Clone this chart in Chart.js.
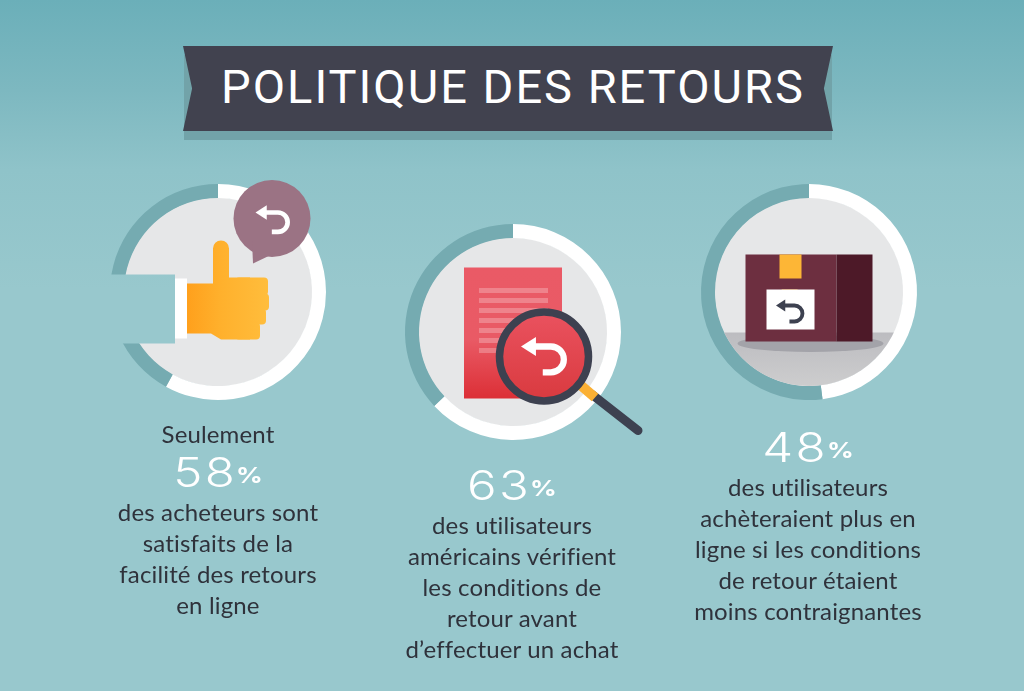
<!DOCTYPE html>
<html lang="fr"><head><meta charset="utf-8">
<script src="https://cdn.jsdelivr.net/npm/chart.js@4"></script>
<style>
html,body{margin:0;padding:0;width:1024px;height:691px;overflow:hidden}
body{position:relative;background:linear-gradient(to bottom,#6bafb9 0,#7db8c0 90px,#8fc3c9 170px,#98c8cd 290px,#98c8cd 691px)}
canvas{position:absolute}
.shadow,.ribbon{position:absolute;left:183px;width:650px;height:85px;clip-path:polygon(0 0,100% 0,98.6% 50%,100% 100%,0 100%,1.4% 50%)}
.ribbon{top:46px;background:#41424f}
.shadow{top:55px;background:#72a3a9;clip-path:none;left:184px;width:648px}
.title{position:absolute;left:5px;width:650px;top:11px;text-align:center;color:#fff;font:400 47px/60px Roboto,sans-serif;letter-spacing:2px;white-space:nowrap}
.block{position:absolute;width:300px;text-align:center;color:#2f323b;font:400 24px/31px Lato,sans-serif;letter-spacing:.15px}
.pct{color:#fff;font:300 41px/40px Inter,sans-serif;letter-spacing:2px;transform:scaleX(1.2)}
.pct span{font-size:22px;font-weight:700;letter-spacing:0;position:relative;top:-4px;margin-left:-1px}
</style></head><body>
<div class="shadow"></div>
<div class="ribbon"><div class="title">POLITIQUE DES RETOURS</div></div>
<canvas id="c0" width="300" height="300" style="left:68px;top:141.5px"></canvas>
<canvas id="c1" width="300" height="300" style="left:363px;top:181.5px"></canvas>
<canvas id="c2" width="300" height="300" style="left:658.5px;top:141.5px"></canvas>
<div class="block" style="left:68px;top:418px">Seulement<div class="pct" style="margin-top:3px;margin-bottom:-3px">58<span>%</span></div>des acheteurs sont<br>satisfaits de la<br>facilité des retours<br>en ligne</div>
<div class="block" style="left:362px;top:465px"><div class="pct" style="margin-bottom:-3px">63<span>%</span></div>des utilisateurs<br>américains vérifient<br>les conditions de<br>retour avant<br>d’effectuer un achat</div>
<div class="block" style="left:658px;top:427px"><div class="pct" style="margin-bottom:-3px">48<span>%</span></div>des utilisateurs<br>achèteraient plus en<br>ligne si les conditions<br>de retour étaient<br>moins contraignantes</div>
<script>
const categories = ["Oui", "Autres"];
const shares = [58, 63, 48];
const remainders = [42, 37, 52];
const sliceColors = ["#ffffff", "#75abb1"];

function retArrow(ctx, x, y, s, color) {
  ctx.save(); ctx.translate(x, y); ctx.scale(s, s);
  ctx.fillStyle = color; ctx.strokeStyle = color; ctx.lineWidth = 4.6;
  ctx.beginPath(); ctx.moveTo(0, 0); ctx.lineTo(11, -7); ctx.lineTo(11, 7); ctx.closePath(); ctx.fill();
  ctx.beginPath(); ctx.moveTo(9, 0); ctx.lineTo(22, 0); ctx.arc(22, 9.5, 9.5, -Math.PI/2, Math.PI/2); ctx.lineTo(16, 19); ctx.stroke();
  ctx.restore();
}
function grad(ctx, x0, y0, x1, y1, stops) {
  const g = ctx.createLinearGradient(x0, y0, x1, y1);
  stops.forEach(([o, c]) => g.addColorStop(o, c)); return g;
}
function rect(ctx, x, y, w, h, fill) { ctx.fillStyle = fill; ctx.fillRect(x, y, w, h); }

const icons = [
  function (ctx, ox, oy) { // thumb
    ctx.save(); ctx.translate(ox, oy);
    ctx.save(); ctx.globalCompositeOperation = "destination-out";
    ctx.fillRect(100, 274, 75, 69); ctx.restore();
    rect(ctx, 175, 278, 12, 60, "#fff");
    const g = grad(ctx, 187, 0, 268, 0, [[0, "#ffa01c"], [.4, "#ffb02c"], [1, "#ffbd3c"]]);
    ctx.fillStyle = g;
    ctx.beginPath();
    ctx.moveTo(187, 283); ctx.lineTo(213, 283); ctx.lineTo(213, 248);
    ctx.arc(221, 248, 8, Math.PI, 0); ctx.lineTo(229, 277); ctx.lineTo(250, 277);
    ctx.lineTo(250, 339); ctx.lineTo(221, 339); ctx.lineTo(211, 333); ctx.lineTo(187, 333); ctx.closePath(); ctx.fill();
    [[277, 18, 268], [293, 17, 269], [308, 16, 266], [322, 17, 260]].forEach(([y, h, r]) => {
      ctx.beginPath(); ctx.roundRect(235, y, r - 235, h, 4); ctx.fill();
    });
    ctx.fillStyle = "#9b7384";
    ctx.beginPath(); ctx.arc(272, 218, 38.5, 0, 7); ctx.fill();
    ctx.beginPath(); ctx.moveTo(252, 240); ctx.lineTo(253, 263); ctx.lineTo(276, 252); ctx.closePath(); ctx.fill();
    retArrow(ctx, 255.5, 212, 1.02, "#fff");
    ctx.restore();
  },
  function (ctx, ox, oy) { // document + lens
    ctx.save(); ctx.translate(ox, oy);
    rect(ctx, 464, 267, 98, 131, grad(ctx, 0, 267, 0, 398, [[0, "#ea5a66"], [.55, "#e95a65"], [1, "#dc2f36"]]));
    [290, 300, 310, 320, 330, 340, 350].forEach(y => rect(ctx, 479, y - 2.5, 69, 5, "rgba(255,255,255,.25)"));
    ctx.strokeStyle = "#3d4150"; ctx.lineWidth = 9; ctx.lineCap = "round";
    ctx.beginPath(); ctx.moveTo(592, 394); ctx.lineTo(638, 430); ctx.stroke();
    ctx.lineCap = "butt"; ctx.strokeStyle = "#fbb034"; ctx.lineWidth = 10;
    ctx.beginPath(); ctx.moveTo(581, 385); ctx.lineTo(595, 397); ctx.stroke();
    ctx.fillStyle = grad(ctx, 0, 312, 0, 400, [[0, "#ea525f"], [1, "#d93a3f"]]);
    ctx.beginPath(); ctx.arc(544, 356, 44.5, 0, 7); ctx.fill();
    ctx.strokeStyle = "#3d4150"; ctx.lineWidth = 7.5;
    ctx.beginPath(); ctx.arc(544, 356, 44.5, 0, 7); ctx.stroke();
    retArrow(ctx, 521, 346, 1.36, "#fff");
    ctx.restore();
  },
  function (ctx, ox, oy) { // box
    ctx.save(); ctx.translate(ox, oy);
    ctx.save(); ctx.beginPath(); ctx.arc(808.5, 291.5, 94, 0, 7); ctx.clip();
    rect(ctx, 700, 332, 220, 70, grad(ctx, 0, 332, 0, 386, [[0, "#bcbcc0"], [1, "#cdcdce"]]));
    ctx.restore();
    ctx.fillStyle = "#a3a3a9";
    ctx.beginPath(); ctx.ellipse(810, 343, 73, 8.5, 0, 0, 7); ctx.fill();
    rect(ctx, 745, 254, 91, 87, "#6d2f40");
    rect(ctx, 836, 254, 36, 87, "#4d1928");
    rect(ctx, 779, 254, 22, 24, "#fdb636");
    ctx.fillStyle = "#fdb636"; ctx.beginPath(); ctx.moveTo(781, 289); ctx.lineTo(798, 289); ctx.lineTo(784, 293); ctx.closePath(); ctx.fill();
    rect(ctx, 766, 289, 48, 40, "#fff");
    retArrow(ctx, 775.5, 305, .84, "#3d4150");
    ctx.restore();
  }
];

shares.forEach((v, i) => {
  new Chart(document.getElementById("c" + i), {
    type: "doughnut",
    data: { labels: categories, datasets: [{ data: [v, remainders[i]], backgroundColor: sliceColors, borderWidth: 0, hoverOffset: 0 }] },
    options: {
      responsive: false, animation: false, devicePixelRatio: 1, cutout: "87.04%",
      layout: { padding: 42 },
      plugins: { legend: { display: false }, tooltip: { enabled: false } }
    },
    plugins: [{
      id: "disc",
      beforeDatasetsDraw(c) {
        const a = c.getDatasetMeta(0).data[0], ctx = c.ctx;
        ctx.save(); ctx.fillStyle = "#e6e7e8"; ctx.beginPath(); ctx.arc(a.x, a.y, a.innerRadius + .5, 0, 7); ctx.fill(); ctx.restore();
      },
      afterDatasetsDraw(c) {
        const a = c.getDatasetMeta(0).data[0];
        const ox = [218, 513, 808.5][i], oy = [291.5, 331.5, 291.5][i];
        icons[i](c.ctx, a.x - ox, a.y - oy);
      }
    }]
  });
});
</script>
</body></html>
